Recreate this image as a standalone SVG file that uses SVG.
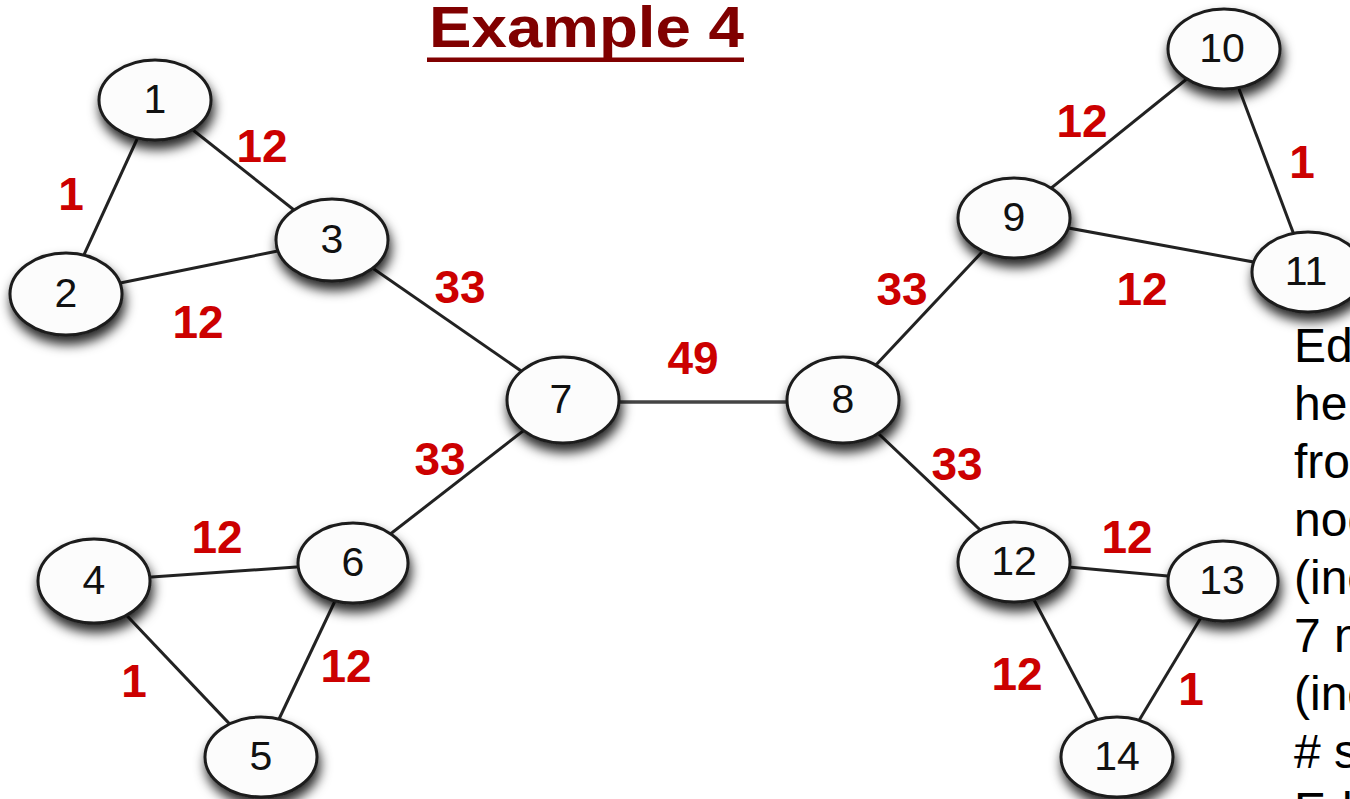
<svg xmlns="http://www.w3.org/2000/svg" width="1350" height="799" viewBox="0 0 1350 799">
<style>
.edge{stroke:#222;stroke-width:3;fill:none}
.node ellipse{fill:#fcfcfc;stroke:#1c1c1c;stroke-width:3;filter:url(#sh)}
.node text{font-family:"Liberation Sans",Arial,sans-serif;font-size:41px;fill:#111;text-anchor:middle}
.w{font-family:"Liberation Sans",Arial,sans-serif;font-size:46px;font-weight:bold;fill:#cc0000;text-anchor:middle}
.side{font-family:"Liberation Sans",Arial,sans-serif;font-size:48px;fill:#000}
</style>
<defs>
<filter id="sh" x="-30%" y="-30%" width="160%" height="190%">
<feDropShadow dx="2" dy="8" stdDeviation="6" flood-color="#000" flood-opacity="0.85"/>
</filter>
</defs>
<rect width="1350" height="799" fill="#fff"/>
<g id="title">
<text x="429" y="47" font-family="'Liberation Sans',Arial,sans-serif" font-size="57" font-weight="bold" fill="#800000" textLength="315" lengthAdjust="spacingAndGlyphs">Example 4</text>
<rect x="427" y="57.5" width="317" height="4.5" fill="#800000"/>
</g>
<g id="connectors">
<line class="edge" x1="155" y1="100" x2="66" y2="294"/>
<line class="edge" x1="155" y1="100" x2="332" y2="240"/>
<line class="edge" x1="66" y1="294" x2="332" y2="240"/>
<line class="edge" x1="332" y1="240" x2="563" y2="400"/>
<line class="edge" x1="563" y1="400" x2="353" y2="563"/>
<line class="edge" x1="94" y1="581" x2="353" y2="563"/>
<line class="edge" x1="94" y1="581" x2="261" y2="757"/>
<line class="edge" x1="353" y1="563" x2="261" y2="757"/>
<line x1="563" y1="402" x2="843" y2="402" stroke="#444" stroke-width="3.5"/>
<line class="edge" x1="843" y1="400" x2="1014" y2="218"/>
<line class="edge" x1="843" y1="400" x2="1014" y2="562"/>
<line class="edge" x1="1014" y1="218" x2="1224" y2="49"/>
<line class="edge" x1="1224" y1="49" x2="1308" y2="272"/>
<line class="edge" x1="1014" y1="218" x2="1308" y2="272"/>
<line class="edge" x1="1014" y1="562" x2="1223" y2="581"/>
<line class="edge" x1="1014" y1="562" x2="1117" y2="757"/>
<line class="edge" x1="1223" y1="581" x2="1117" y2="757"/>
</g>
<g id="weights">
<text class="w" x="262" y="162">12</text>
<text class="w" x="71" y="210">1</text>
<text class="w" x="198" y="338">12</text>
<text class="w" x="460" y="303">33</text>
<text class="w" x="440" y="475">33</text>
<text class="w" x="693" y="374">49</text>
<text class="w" x="217" y="553">12</text>
<text class="w" x="134" y="697">1</text>
<text class="w" x="346" y="682">12</text>
<text class="w" x="902" y="305">33</text>
<text class="w" x="957" y="480">33</text>
<text class="w" x="1082" y="137">12</text>
<text class="w" x="1302" y="178">1</text>
<text class="w" x="1142" y="305">12</text>
<text class="w" x="1127" y="553">12</text>
<text class="w" x="1017" y="690">12</text>
<text class="w" x="1191" y="705">1</text>
</g>
<g id="n1" class="node"><ellipse cx="155" cy="100" rx="56" ry="40"/><text x="155" y="113">1</text></g>
<g id="n2" class="node"><ellipse cx="66" cy="294" rx="56" ry="41"/><text x="66" y="307">2</text></g>
<g id="n3" class="node"><ellipse cx="332" cy="240" rx="56" ry="41"/><text x="332" y="253">3</text></g>
<g id="n4" class="node"><ellipse cx="94" cy="581" rx="56" ry="42"/><text x="94" y="594">4</text></g>
<g id="n5" class="node"><ellipse cx="261" cy="757" rx="56" ry="40"/><text x="261" y="770">5</text></g>
<g id="n6" class="node"><ellipse cx="353" cy="563" rx="55" ry="40"/><text x="353" y="576">6</text></g>
<g id="n7" class="node"><ellipse cx="563" cy="400" rx="56" ry="43"/><text x="561" y="413">7</text></g>
<g id="n8" class="node"><ellipse cx="843" cy="400" rx="56" ry="43"/><text x="843" y="413">8</text></g>
<g id="n9" class="node"><ellipse cx="1014" cy="218" rx="56" ry="40"/><text x="1014" y="231">9</text></g>
<g id="n10" class="node"><ellipse cx="1224" cy="49" rx="56" ry="40"/><text x="1222" y="62">10</text></g>
<g id="n11" class="node"><ellipse cx="1308" cy="272" rx="56" ry="40"/><text x="1306" y="285">11</text></g>
<g id="n12" class="node"><ellipse cx="1014" cy="562" rx="56" ry="40"/><text x="1014" y="575">12</text></g>
<g id="n13" class="node"><ellipse cx="1223" cy="581" rx="55" ry="40"/><text x="1222" y="594">13</text></g>
<g id="n14" class="node"><ellipse cx="1117" cy="757" rx="56" ry="40"/><text x="1117" y="770">14</text></g>
<g id="sidetext" class="side">
<text x="1294" y="362">Ed</text>
<text x="1294" y="420">he</text>
<text x="1294" y="478">fro</text>
<text x="1294" y="536">nod</text>
<text x="1294" y="594">(inc</text>
<text x="1294" y="652">7 n</text>
<text x="1294" y="710">(inc</text>
<text x="1294" y="768"># s</text>
<text x="1294" y="826">Ed</text>
</g>
</svg>
